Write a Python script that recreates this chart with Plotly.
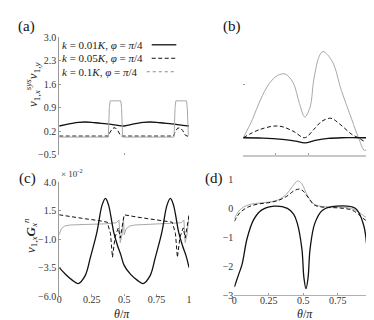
import plotly.graph_objects as go

# ---- panel (a): v1x^sys v1y vs theta/pi ----
a_x_k001 = [0, 0.05, 0.1, 0.15, 0.2, 0.25, 0.3, 0.35, 0.4, 0.45, 0.5,
            0.55, 0.6, 0.65, 0.7, 0.75, 0.8, 0.85, 0.9, 0.95, 1.0]
a_y_k001 = [0.35, 0.39, 0.43, 0.46, 0.47, 0.46, 0.44, 0.42, 0.40, 0.37, 0.35,
            0.39, 0.43, 0.46, 0.47, 0.46, 0.44, 0.42, 0.40, 0.37, 0.35]
a_x_k005 = [0, 0.38, 0.39, 0.41, 0.43, 0.45, 0.47, 0.48,
            0.88, 0.89, 0.91, 0.93, 0.95, 0.97, 0.985, 1.0]
a_y_k005 = [0.05, 0.05, 0.15, 0.28, 0.30, 0.22, 0.08, 0.05,
            0.05, 0.15, 0.28, 0.30, 0.22, 0.08, 0.05, 0.05]
a_x_k01 = [0, 0.378, 0.386, 0.392, 0.474, 0.48, 0.488,
           0.884, 0.892, 0.898, 0.98, 0.986, 0.994, 1.0]
a_y_k01 = [0.02, 0.02, 0.9, 1.1, 1.1, 0.9, 0.02,
           0.02, 0.9, 1.1, 1.1, 0.9, 0.08, 0.08]

# ---- panel (b) ----
b_x_k001 = [0, 0.15, 0.3, 0.4, 0.47, 0.55, 0.65, 0.75, 0.88, 1.0]
b_y_k001 = [0, -0.01, -0.05, -0.1, -0.15, -0.08, -0.02, 0.0, 0.0, 0.0]
b_x_k005 = [0, 0.13, 0.27, 0.38, 0.47, 0.54, 0.6, 0.67, 0.74, 0.83, 0.88, 0.94, 1.0]
b_y_k005 = [0, 0.25, 0.35, 0.2, 0.0, 0.25, 0.49, 0.58, 0.4, 0.1, 0.0, -0.12, 0.0]
b_x_k01 = [0, 0.07, 0.13, 0.2, 0.26, 0.32, 0.38, 0.43, 0.47, 0.51, 0.54,
           0.58, 0.61, 0.68, 0.75, 0.83, 0.88, 0.93, 1.0]
b_y_k01 = [0, 0.54, 1.12, 1.62, 1.85, 1.9, 1.65, 1.02, 0.62, 0.9, 1.75,
           2.42, 2.57, 2.28, 1.41, 0.54, 0.01, -0.38, 0.0]

# ---- panel (c): v1x G_x^n  (x 10^-2) ----
c_x_k001 = [0, 0.05, 0.1, 0.146, 0.2, 0.24, 0.29, 0.33, 0.356, 0.38, 0.42, 0.45, 0.475, 0.5,
            0.55, 0.6, 0.646, 0.7, 0.74, 0.79, 0.83, 0.856, 0.88, 0.92, 0.95, 0.975, 1.0]
c_y_k001 = [-3.5, -4.1, -4.6, -4.9, -4.2, -2.6, -0.4, 2.0, 2.6, 2.0, -0.4, -1.6, -2.4, -3.3,
            -4.1, -4.6, -4.9, -4.2, -2.6, -0.4, 2.0, 2.6, 2.0, -0.4, -1.6, -2.4, -3.5]
c_x_k005 = [0, 0.1, 0.2, 0.3, 0.37, 0.395, 0.41, 0.43, 0.455, 0.47, 0.485, 0.5,
            0.6, 0.7, 0.8, 0.87, 0.895, 0.91, 0.93, 0.955, 0.97, 0.985, 1.0]
c_y_k005 = [1.15, 0.95, 0.8, 0.65, 0.5, -0.5, -2.6, -0.8, 0.0, -0.9, 0.2, 1.15,
            0.95, 0.8, 0.65, 0.5, -0.5, -2.6, -0.8, 0.0, -0.9, 0.2, 1.15]
c_x_k01 = [0, 0.015, 0.04, 0.08, 0.2, 0.35, 0.44, 0.46, 0.47, 0.485, 0.495,
           0.5, 0.515, 0.54, 0.58, 0.7, 0.85, 0.94, 0.96, 0.97, 0.985, 0.995, 1.0]
c_y_k01 = [-0.6, -0.1, 0.15, 0.25, 0.3, 0.35, 0.45, 0.7, -1.3, -0.5, 0.9,
           -0.6, -0.1, 0.15, 0.25, 0.3, 0.35, 0.45, 0.7, -1.3, -0.5, 0.9, 1.1]

# ---- panel (d) ----
d_x_k001 = [0, 0.03, 0.056, 0.092, 0.14, 0.197, 0.29, 0.385, 0.43, 0.456, 0.49, 0.505,
            0.52, 0.535, 0.55, 0.585, 0.64, 0.74, 0.88, 0.94, 0.97, 1.0]
d_y_k001 = [-2.72, -2.3, -1.94, -1.05, -0.39, -0.06, 0.08, 0.0, -0.2, -0.5, -1.39, -2.4,
            -2.78, -2.4, -1.39, -0.5, -0.06, 0.08, 0.0, -0.61, -1.72, -2.8]
d_x_k005 = [0, 0.04, 0.1, 0.17, 0.25, 0.32, 0.38, 0.43, 0.47, 0.5, 0.54, 0.58,
            0.65, 0.75, 0.85, 0.9, 0.95, 1.0]
d_y_k005 = [-0.45, -0.15, 0.05, 0.15, 0.2, 0.28, 0.42, 0.6, 0.67, 0.6, 0.35, 0.12,
            0.04, 0.02, -0.05, -0.2, -0.4, -0.5]
d_x_k01 = [0, 0.04, 0.1, 0.17, 0.25, 0.32, 0.38, 0.42, 0.46, 0.49, 0.53, 0.58,
           0.65, 0.75, 0.85, 0.91, 0.96, 1.0]
d_y_k01 = [-0.35, -0.05, 0.12, 0.18, 0.22, 0.3, 0.5, 0.75, 0.95, 0.85, 0.45, 0.15,
           0.06, 0.05, 0.0, -0.15, -0.3, -0.15]

legend_labels = ["<i>k</i> = 0.01<i>K</i>, <i>φ</i> = <i>π</i>/4",
                 "<i>k</i> = 0.05<i>K</i>, <i>φ</i> = <i>π</i>/4",
                 "<i>k</i> = 0.1<i>K</i>, <i>φ</i> = <i>π</i>/4"]

BLACK = "#111111"
GRAY = "#a8a8a8"
AXC = "#999999"
FONT = "Liberation Serif"
W, H = 374, 320

styles = [dict(color=BLACK, width=1.3),
          dict(color=BLACK, width=1.0, dash="4px,2.5px"),
          dict(color=GRAY, width=1.0)]

fig = go.Figure()


def add(xs, ys, ax, style, shape="spline"):
    fig.add_trace(go.Scatter(x=xs, y=ys, mode="lines", line=dict(style, shape=shape),
                             xaxis="x" + ax, yaxis="y" + ax, showlegend=False,
                             hoverinfo="skip"))


add(a_x_k001, a_y_k001, "", styles[0])
add(a_x_k005, a_y_k005, "", styles[1], "linear")
add(a_x_k01, a_y_k01, "", styles[2], "linear")
add(b_x_k01, b_y_k01, "2", styles[2])
add(b_x_k005, b_y_k005, "2", styles[1])
add(b_x_k001, b_y_k001, "2", styles[0])
add(c_x_k01, c_y_k01, "3", styles[2], "linear")
add(c_x_k005, c_y_k005, "3", styles[1], "linear")
add(c_x_k001, c_y_k001, "3", styles[0])
add(d_x_k01, d_y_k01, "4", styles[2])
add(d_x_k005, d_y_k005, "4", styles[1])
add(d_x_k001, d_y_k001, "4", styles[0])


def px(x):
    return x / W


def py(y):
    return 1 - y / H


def dom_x(l, r):
    return [px(l), px(r)]


def dom_y(bottom, top):
    return [py(bottom), py(top)]


tickfont = dict(family=FONT, size=10, color="#333333")
xticks = dict(tickvals=[0, 0.25, 0.5, 0.75, 1], ticktext=["0", "0.25", "0.5", "0.75", "1"],
              ticklabelstandoff=-4)

fig.update_layout(
    width=W, height=H, margin=dict(l=0, r=0, t=0, b=0),
    paper_bgcolor="white", plot_bgcolor="white",
    font=dict(family=FONT, size=10, color="#222222"),
    # (a)
    xaxis=dict(domain=dom_x(49, 181), range=[0, 1], showgrid=False, zeroline=False,
               showline=False, showticklabels=False, ticks="inside", ticklen=2,
               tickcolor=AXC, tickvals=[0.5, 1], anchor="y"),
    yaxis=dict(domain=dom_y(146, 24), range=[-0.5, 3.0], showgrid=False, zeroline=False,
               showline=True, linecolor=AXC, linewidth=1, ticks="inside", ticklen=2,
               tickcolor=AXC, tickvals=[-0.5, 0.2, 0.9, 1.6, 2.3, 3.0], tickformat=".1f",
               tickfont=tickfont, anchor="x"),
    # (b)
    xaxis2=dict(domain=dom_x(236, 369), range=[0, 1], showgrid=False, zeroline=False,
                showline=True, linecolor="#c8c8c8", linewidth=2, showticklabels=False,
                ticks="inside", ticklen=2, tickcolor=AXC, tickvals=[0.25, 0.5], anchor="y2"),
    yaxis2=dict(domain=dom_y(146, 24), range=[-0.5, 3.0], showgrid=False, zeroline=False,
                showline=False, showticklabels=False, ticks="inside", ticklen=2,
                tickcolor=AXC, tickvals=[1.6, 3.0], anchor="x2"),
    # (c)
    xaxis3=dict(domain=dom_x(49, 181), range=[0, 1], showgrid=False, zeroline=False,
                showline=False, ticks="inside", ticklen=2, tickcolor=AXC,
                tickfont=tickfont, anchor="y3", **xticks),
    yaxis3=dict(domain=dom_y(293, 175), range=[-6, 4], showgrid=False, zeroline=False,
                showline=True, linecolor=AXC, linewidth=1, ticks="inside", ticklen=2,
                tickcolor=AXC, tickvals=[-6, -3.5, -1, 1.5, 4], tickformat=".1f",
                tickfont=tickfont, anchor="x3"),
    # (d)
    xaxis4=dict(domain=dom_x(227, 367), range=[0, 1], showgrid=False, zeroline=False,
                showline=True, linecolor="#b0b0b0", linewidth=1, ticks="inside",
                ticklen=2, tickcolor=AXC, tickfont=tickfont, anchor="y4", **xticks),
    yaxis4=dict(domain=dom_y(292, 172), range=[-3, 1], showgrid=False, zeroline=False,
                showline=False, ticks="", tickvals=[-3, -2, -1, 0, 1],
                tickfont=tickfont, anchor="x4"),
)


def note(text, x, y, size, xanchor="center", angle=0, color="#222222"):
    return dict(text=text, x=px(x), y=py(y), xref="paper", yref="paper",
                xanchor=xanchor, yanchor="middle", showarrow=False, borderpad=0,
                textangle=angle, font=dict(family=FONT, size=size, color=color))


ann = []
for lab, (lx, ly) in zip(["(a)", "(b)", "(c)", "(d)"],
                         [(16, 13), (225, 13), (17, 171), (206, 171)]):
    ann.append(note(lab, lx, ly, 15, color="#111111"))

# y-axis titles
ann.append(note("<i>v</i><sub>1,<i>x</i></sub><sup><i>sys</i></sup><i>v</i><sub>1,<i>y</i></sub>",
                22, 73, 13, angle=-90))
ann.append(note("<i>v</i><sub>1,<i>x</i></sub><b><i>G</i></b><sub><i>x</i></sub><sup><i>n</i></sup>",
                20, 230, 13, angle=-90))
ann.append(note("× 10<sup>-2</sup>", 50, 165, 9, xanchor="left", color="#333333"))
for cx in (113, 299):
    ann.append(note("<i>θ</i>/<i>π</i>", cx, 312, 12))

# legend of panel (a): text on the left, line sample on the right
shapes = []
for i, (lab, ty) in enumerate(zip(legend_labels, [32, 46, 60])):
    ann.append(note(lab, 51, ty, 11, xanchor="left"))
    line = dict(styles[i])
    if i == 2:
        line = dict(color="#888888", width=1, dash="dot")
    shapes.append(dict(type="line", xref="paper", yref="paper",
                       x0=px(143 if i < 2 else 138), x1=px(168),
                       y0=py(ty), y1=py(ty), line=line))

fig.update_layout(annotations=ann, shapes=shapes)
fig.write_html("out.html")
